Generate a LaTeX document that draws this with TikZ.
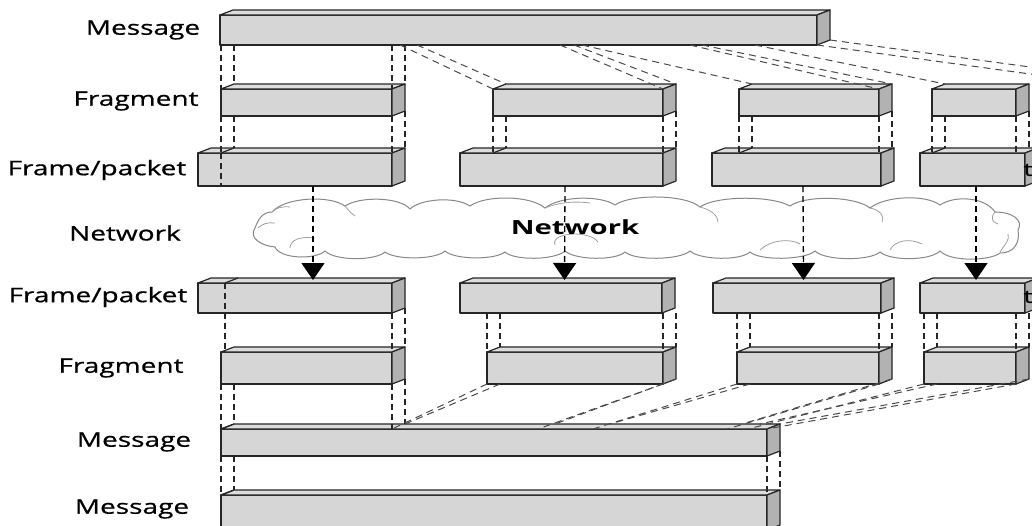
\documentclass[tikz,border=0pt]{standalone}
\usepackage{fontspec}
\setmainfont{Open Sans}
\newfontfamily\lblfont[FakeStretch=1.4, FakeBold=0.8]{Open Sans}
\newfontfamily\netfont[FakeStretch=1.5]{Open Sans}
\usetikzlibrary{arrows.meta}
\definecolor{boxfront}{HTML}{D6D6D6}
\definecolor{boxtop}{HTML}{DCDCDC}
\definecolor{boxside}{HTML}{B2B2B2}
\definecolor{dashgray}{HTML}{4A4A4A}
\definecolor{cloudline}{HTML}{888888}
\tikzset{
  boxedge/.style={draw=black!85, line width=1.2pt, line join=round},
  frontbox/.style={boxedge, fill=boxfront, inner sep=0pt, outer sep=0pt, rectangle},
  vdash/.style={draw=black!85, line width=1.3pt, dash pattern=on 6pt off 4pt},
  ddash/.style={draw=dashgray, line width=1pt, dash pattern=on 7pt off 5pt},
  netarrow/.style={draw=black, line width=1.3pt, dash pattern=on 6pt off 4pt, -{Triangle[width=23pt,length=17pt]}},
  lbl/.style={font=\lblfont\fontsize{20}{22}\selectfont, inner sep=0pt},
  cloudstyle/.style={draw=cloudline, line width=1pt, fill=white},
  curl/.style={draw=cloudline!80, line width=0.8pt},
}
\newcommand\prism[5]{%
  \node[frontbox, minimum width={(#4-#2)*1pt}, minimum height={(#5-#3)*1pt}, anchor=north west] (#1) at (#2,#3) {};
  \draw[boxedge, fill=boxtop] (#1.north west) -- ++(13,-5) -- ([shift={(13,-5)}]#1.north east) -- (#1.north east) -- cycle;
  \draw[boxedge, fill=boxside] (#1.north east) -- ++(13,-5) -- ([shift={(13,-5)}]#1.south east) -- (#1.south east) -- cycle;
  \coordinate (#1-tl) at ([shift={(13,-5)}]#1.north west);
  \coordinate (#1-tr) at ([shift={(13,-5)}]#1.north east);
  \coordinate (#1-br) at ([shift={(13,-5)}]#1.south east);
}
% verticals from upper box bottom down to lower box corners
\newcommand\vdown[2]{%
  \draw[vdash] (#2.north west |- #1.south) -- (#2.north west);
  \draw[vdash] (#2-tl |- #1.south) -- (#2-tl);
  \draw[vdash] (#2.north east |- #1.south) -- (#2.north east);
  \draw[vdash] (#2-tr |- #1.south) -- (#2-tr);
}
% verticals from upper box corners down to lower box top
\newcommand\vfrom[2]{%
  \draw[vdash] (#1.south west) -- (#1.south west |- #2.north);
  \draw[vdash] (#1-tl |- #1.south) -- (#1-tl |- #2-tl);
  \draw[vdash] (#1.south east) -- (#1.south east |- #2.north);
  \draw[vdash] (#1-br) -- (#1-br |- #2-tl);
  \draw[boxedge] (#1.south west |- #2.north) -- (#1-tl |- #2-tl);
}
\begin{document}
\begin{tikzpicture}[x=1pt, y=-1pt]
\useasboundingbox (0,0) rectangle (1032,525);
\clip (0,0) rectangle (1032,525);
\fill[white] (0,0) rectangle (1032,525);

% ---------- labels ----------
\node[lbl] (l1) at (143,30) {Message};
\node[lbl] (l2) at (136,101) {Fragment};
\node[lbl] (l3) at (97,170) {Frame/packet};
\node[lbl] (l4) at (125,233) {Network};
\node[lbl] (l5) at (98,297) {Frame/packet};
\node[lbl] (l6) at (121,368) {Fragment};
\node[lbl] (l7) at (134,442) {Message};
\node[lbl] (l8) at (132,509) {Message};

% ---------- cloud ----------
\draw[cloudstyle] (272,212)
  .. controls (285,197) and (330,195) .. (345,206)
  .. controls (360,196) and (400,197) .. (410,209)
  .. controls (420,199) and (455,196) .. (470,206)
  .. controls (485,195) and (530,195) .. (545,208)
  .. controls (560,196) and (600,195) .. (615,205)
  .. controls (630,194) and (685,194) .. (700,207)
  .. controls (715,196) and (770,195) .. (790,206)
  .. controls (805,195) and (855,196) .. (870,208)
  .. controls (885,196) and (925,194) .. (940,205)
  .. controls (955,195) and (985,197) .. (995,212)
  .. controls (1012,212) and (1024,220) .. (1018,230)
  .. controls (1020,242) and (1015,253) .. (1000,253)
  .. controls (990,261) and (950,262) .. (940,251)
  .. controls (930,261) and (890,261) .. (880,252)
  .. controls (870,261) and (825,261) .. (815,251)
  .. controls (805,260) and (760,261) .. (750,252)
  .. controls (740,261) and (700,260) .. (690,251)
  .. controls (680,260) and (635,261) .. (625,252)
  .. controls (615,261) and (575,260) .. (565,251)
  .. controls (555,260) and (515,261) .. (505,252)
  .. controls (495,260) and (455,260) .. (445,251)
  .. controls (435,260) and (395,260) .. (385,252)
  .. controls (375,261) and (335,261) .. (325,251)
  .. controls (315,260) and (280,259) .. (275,247)
  .. controls (262,246) and (248,238) .. (255,228)
  .. controls (258,220) and (262,212) .. (272,212) -- cycle;
\draw[curl] (272,212) .. controls (276,208) and (282,206) .. (290,207);
\draw[curl] (258,228) .. controls (262,224) and (268,222) .. (275,223);
\draw[curl] (290,248) .. controls (290,240) and (300,236) .. (315,238);
\draw[curl] (345,206) .. controls (350,212) and (352,214) .. (355,216);
\draw[curl] (545,208) .. controls (560,202) and (575,201) .. (590,203);
\draw[curl] (700,207) .. controls (712,210) and (718,216) .. (718,222);
\draw[curl] (870,208) .. controls (880,210) and (885,216) .. (882,222);
\draw[curl] (555,245) .. controls (550,232) and (590,230) .. (598,242);
\draw[curl] (760,250) .. controls (770,240) and (790,238) .. (800,244);
\draw[curl] (890,250) .. controls (895,240) and (910,238) .. (922,244);
\draw[curl] (1000,252) .. controls (1005,244) and (1010,240) .. (1008,234);
\draw[curl] (995,212) .. controls (990,218) and (992,222) .. (998,224);
\node[font=\netfont\bfseries\fontsize{19.5}{22}\selectfont, inner sep=0pt] (netlbl) at (575,227) {Network};

% ---------- boxes ----------
\prism{M1}{220}{15}{817}{45}
\prism{G1}{221}{89}{392}{116}
\prism{G2}{493}{89}{663}{116}
\prism{G3}{739}{89}{879}{116}
\prism{G4}{932}{89}{1016}{116}
\prism{P1}{198}{153}{392}{186}
\prism{P2}{460}{153}{663}{186}
\prism{P3}{712}{153}{881}{186}
\prism{P4}{920}{153}{1025}{186}
\prism{Q1}{198}{283}{392}{313}
\prism{Q2}{460}{283}{662}{313}
\prism{Q3}{713}{283}{881}{313}
\prism{Q4}{920}{283}{1025}{313}
\prism{H1}{221}{352}{392}{384}
\prism{H2}{487}{352}{663}{384}
\prism{H3}{737}{352}{879}{384}
\prism{H4}{924}{352}{1016}{384}
\prism{N1}{221}{429}{767}{456}
\prism{N2}{221}{495}{767}{530}

\node[lbl, font=\lblfont\fontsize{18}{22}\selectfont] (t1) at (1028,170) {t};
\node[lbl, font=\lblfont\fontsize{18}{22}\selectfont] (t2) at (1028,297) {t};

% ---------- message -> fragments ----------
\vdown{M1}{G1}
\draw[ddash] (M1.south west) ++(180,0) -- (G2.north west);
\draw[ddash] (M1.south west) ++(197,0) -- (G2-tl);
\draw[ddash] (M1.south west) ++(340,0) -- (G2.north east);
\draw[ddash] (M1.south west) ++(354,0) -- (G2-tr);
\draw[ddash] (M1.south west) ++(362,0) -- (G3-tl);
\draw[ddash] (M1.south west) ++(470,0) -- (G3.north east);
\draw[ddash] (M1.south west) ++(482,0) -- (G3-tr);
\draw[ddash] (M1.south west) ++(535,0) -- (G4-tl);
\coordinate (off1) at (1045,76);
\coordinate (off2) at (1045,69);
\draw[ddash] (M1.south east) -- (off1);
\draw[ddash] (M1-br) -- (off2);

% ---------- fragments -> frames ----------
\vfrom{G1}{P1}
\draw[vdash] (G1.south west |- P1.north) -- (G1.south west |- P1.south);
\vfrom{G2}{P2}
\vfrom{G3}{P3}
\vfrom{G4}{P4}

% ---------- network arrows ----------
\draw[netarrow] ([xshift=18]P1.south) -- ([xshift=18,yshift=3]Q1.north);
\draw[netarrow] ([xshift=3.5]P2.south) -- ([xshift=3.5,yshift=3]Q2.north);
\draw[netarrow] ([xshift=6.5]P3.south) -- ([xshift=6.5,yshift=3]Q3.north);
\draw[netarrow] ([xshift=3.5]P4.south) -- ([xshift=3.5,yshift=3]Q4.north);

% ---------- frames -> fragments (lower) ----------
\coordinate (q1n) at ([xshift=4]H1.north west |- Q1.north);
\draw[boxedge] (q1n) -- ++(13,-5);
\draw[vdash] (q1n) -- ([xshift=4]H1.north west);
\draw[vdash] (H1.north east |- Q1.south) -- (H1.north east);
\draw[vdash] (Q1-br) -- (H1-tr);
\vdown{Q2}{H2}
\vdown{Q3}{H3}
\vdown{Q4}{H4}

% ---------- fragments -> message (lower) ----------
\vfrom{H1}{N1}
\draw[ddash] (H2.south west) -- ([xshift=171]N1.north west);
\draw[ddash] (H2-tl |- H2.south) -- ([shift={(184,-5)}]N1.north west);
\draw[ddash] (H2.south east) -- ([xshift=317]N1.north west);
\draw[ddash] (H2-br) -- ([shift={(334,-5)}]N1.north west);
\draw[ddash] (H3.south west) -- ([xshift=372]N1.north west);
\draw[ddash] (H3-tl |- H3.south) -- ([shift={(389,-5)}]N1.north west);
\draw[ddash] (H3.south east) -- ([xshift=506]N1.north west);
\draw[ddash] (H3-br) -- ([shift={(521,-5)}]N1.north west);
\draw[ddash] (H4.south west) -- ([xshift=527]N1.north west);
\draw[ddash] (H4-tl |- H4.south) -- ([shift={(539,-5)}]N1.north west);
\draw[ddash] (H4.south east) -- (N1.north east);
\draw[ddash] (H4-br) -- (N1-tr);

% ---------- message -> message ----------
\vfrom{N1}{N2}
\end{tikzpicture}
\end{document}
